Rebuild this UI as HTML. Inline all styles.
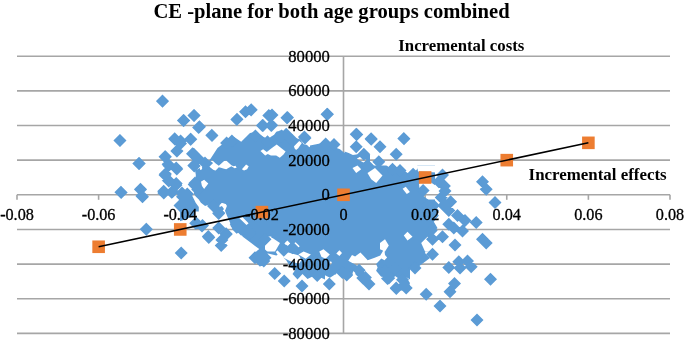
<!DOCTYPE html><html><head><meta charset="utf-8"><style>html,body{margin:0;padding:0;background:#fff;width:685px;height:344px;overflow:hidden}svg{display:block;will-change:transform}text{font-family:"Liberation Serif",serif}</style></head><body><svg width="685" height="344" viewBox="0 0 685 344"><defs><mask id="m" maskUnits="userSpaceOnUse" x="0" y="0" width="685" height="344"><rect width="685" height="344" fill="#fff"/><path fill="#000" d="M352.5 168.0L357.5 165.5L361.2 169.2L356.2 173.0ZM367.5 173.0L375.0 168.0L382.5 175.5L376.2 183.0L371.2 179.2ZM390.0 165.5L405.0 165.5L400.0 171.8L393.8 170.5ZM265.0 240.5L272.5 238.0L280.0 243.0L275.0 251.5L265.0 251.5ZM380.0 243.0L385.0 239.2L388.8 245.5L385.0 251.5L380.0 249.2ZM403.8 235.5L407.5 231.8L412.5 236.8L407.5 240.5ZM421.2 243.0L427.5 236.8L435.0 240.5L435.0 251.5L425.0 251.5ZM419.0 183.5L428.0 180.5L437.0 186.5L437.0 199.5L428.0 199.5L420.0 193.5ZM417.0 165.5L437.0 165.5L437.0 172.5L418.0 171.5ZM264.4 239.0L266.9 236.5L271.2 236.5L272.5 240.9L269.4 244.0ZM284.4 243.4L286.2 241.5L288.1 243.4L286.2 245.2ZM348.3 260.7L352.0 255.0L355.1 256.5L360.4 252.4L367.7 260.2L374.0 258.1L380.3 255.5L383.4 250.3L382.4 246.6L385.5 244.5L388.1 246.1L384.5 250.8L385.0 255.0L387.1 257.6L384.5 260.2L381.3 258.6L376.1 263.9L377.6 267.5L376.1 270.7L381.8 277.5L380.3 280.5L370.8 280.5L360.4 268.1L357.2 266.0L356.2 264.9L350.9 262.3ZM353.0 271.7L356.2 268.8L358.1 269.8L355.1 273.8L357.2 277.0L355.1 280.5L348.8 280.5L352.0 275.9ZM336.3 253.4L339.4 250.3L342.0 252.9L339.4 256.0ZM335.2 274.9L337.9 271.7L340.5 273.8L342.6 275.9L340.5 280.1L336.3 280.5ZM330.0 261.8L331.0 261.3L332.1 263.3L330.0 264.9ZM200.9 181.8L204.1 179.7L208.3 183.4L204.1 189.1L202.0 186.0ZM239.2 218.1L242.3 217.0L248.6 223.3L246.5 224.9ZM385.9 164.7L392.1 160.5L417.3 160.5L417.3 168.9L411.0 175.2L404.7 171.0L398.4 168.9L392.1 169.9ZM402.6 188.8L405.8 186.7L409.9 191.9L406.8 194.0ZM298.4 254.6L303.6 251.4L310.9 254.6L305.7 258.8ZM319.3 251.4L323.5 249.3L329.8 254.6L325.6 258.8L321.4 256.7ZM260.5 150.9L263.1 149.3L266.8 152.0L270.9 148.8L276.7 144.6L281.4 148.3L285.6 151.4L283.5 154.6L279.8 157.7L276.2 155.6L270.9 155.6L267.8 154.1L265.2 155.6ZM294.0 146.2L299.2 141.0L301.8 143.1L298.2 148.3L296.1 149.9L294.5 148.3ZM255.2 130.5L277.2 130.5L274.1 134.7L270.9 136.8L267.8 139.4L263.6 136.8L260.5 134.7L256.3 132.6ZM306.5 144.1L308.6 142.0L310.0 143.1L310.0 147.3L308.1 146.2ZM200.0 153.6L203.1 150.5L212.6 150.5L211.5 153.6L208.4 157.8L206.3 159.9L204.2 157.8L201.0 156.8ZM209.4 166.7L213.1 163.1L210.5 161.0L212.0 159.9L215.7 163.6L218.8 165.7L224.1 161.0L226.2 160.4L231.4 165.2L233.5 166.2L235.6 165.7L236.6 167.8L234.6 168.3L231.4 166.2L226.2 169.3L224.1 168.8L220.9 167.8L218.8 167.3L215.7 170.4L213.6 169.9ZM241.9 169.3L246.1 164.6L248.7 166.2L247.1 169.3L244.0 170.4ZM200.0 166.2L202.1 167.3L202.1 169.3L200.0 169.9ZM275.8 252.1L278.1 249.8L285.1 251.5L290.9 253.3L299.1 255.6L301.4 260.3L299.1 263.8L290.9 261.4L284.0 257.9L278.1 255.6ZM285.1 242.8L287.4 240.5L290.3 243.4L288.0 246.3ZM293.8 243.4L295.6 242.2L299.7 246.3L297.9 248.1ZM356.8 158.7L360.4 156.6L367.0 160.2L363.4 162.4Z"/></mask></defs><g stroke="#a6a6a6" stroke-width="1.6"><line x1="17" y1="56.20" x2="670" y2="56.20"/><line x1="17" y1="90.85" x2="670" y2="90.85"/><line x1="17" y1="125.50" x2="670" y2="125.50"/><line x1="17" y1="160.15" x2="670" y2="160.15"/><line x1="17" y1="194.80" x2="670" y2="194.80"/><line x1="17" y1="229.45" x2="670" y2="229.45"/><line x1="17" y1="264.10" x2="670" y2="264.10"/><line x1="17" y1="298.75" x2="670" y2="298.75"/><line x1="17" y1="333.40" x2="670" y2="333.40"/></g><line x1="343.5" y1="56.20" x2="343.5" y2="333.40" stroke="#a6a6a6" stroke-width="1.6"/><g stroke="#a6a6a6" stroke-width="1.6"><line x1="17.00" y1="194.8" x2="17.00" y2="199.8"/><line x1="98.62" y1="194.8" x2="98.62" y2="199.8"/><line x1="180.25" y1="194.8" x2="180.25" y2="199.8"/><line x1="261.88" y1="194.8" x2="261.88" y2="199.8"/><line x1="343.50" y1="194.8" x2="343.50" y2="199.8"/><line x1="425.12" y1="194.8" x2="425.12" y2="199.8"/><line x1="506.75" y1="194.8" x2="506.75" y2="199.8"/><line x1="588.38" y1="194.8" x2="588.38" y2="199.8"/><line x1="670.00" y1="194.8" x2="670.00" y2="199.8"/></g><path fill="#5b9bd5" mask="url(#m)" d="M211.0 158.0L217.5 148.0L228.8 139.2L233.8 136.8L241.2 141.8L250.0 133.0L256.2 131.8L263.8 136.8L270.0 134.2L270.0 171.5L203.0 171.5L206.0 165.5ZM265.0 135.5L275.0 131.8L282.5 130.5L290.0 136.8L300.0 139.2L303.8 144.2L310.0 145.5L322.5 143.0L330.0 145.5L340.0 149.2L347.5 155.5L352.5 160.5L360.0 165.5L365.0 171.5L265.0 171.5ZM195.0 170.5L200.0 168.0L205.0 165.5L270.0 165.5L270.0 240.5L262.5 238.0L255.0 230.5L247.5 225.5L242.5 218.0L235.0 210.5L230.0 205.5L222.5 203.0L215.0 200.5L207.5 195.5L202.5 190.5L198.8 183.0L196.2 176.8ZM265.0 165.5L435.0 165.5L435.0 200.5L440.0 205.5L435.0 210.5L438.8 215.5L433.8 221.8L437.5 228.0L431.2 234.2L435.0 240.5L435.0 251.5L265.0 251.5ZM240.0 236.5L325.0 236.5L325.0 279.5L321.2 277.8L317.5 274.0L312.5 276.5L307.5 279.0L302.5 274.0L297.5 279.5L292.5 274.0L295.0 270.2L290.0 266.5L286.2 260.2L282.5 256.5L277.5 252.8L273.8 249.0L268.8 245.2L265.0 241.5L258.8 239.0L252.5 237.8L246.2 236.5ZM325.0 236.5L410.0 236.5L410.0 279.5L405.0 276.5L400.0 279.5L395.0 275.9L390.0 279.0L385.0 274.6L380.0 277.8L375.0 274.0L370.0 277.1L365.0 274.6L360.0 277.8L355.0 274.6L350.0 277.8L345.0 274.0L340.0 277.1L335.0 274.6L330.0 277.8L325.0 275.2ZM400.0 230.5L435.0 230.5L432.5 235.5L425.0 240.5L427.5 245.5L425.0 253.0L430.0 258.0L420.0 265.5L415.0 270.5L407.5 265.5L405.0 275.5L410.0 283.0L407.5 290.5L400.0 290.5ZM195.7 175.5L240.0 175.5L240.0 211.5L229.2 211.5L229.2 209.0L226.1 204.8L226.1 200.6L221.9 202.7L217.7 206.9L214.6 209.0L211.4 206.9L208.3 204.8L205.1 205.9L200.9 202.7L198.8 199.6L195.7 196.4L193.6 193.3L194.7 191.2L189.4 186.0L189.4 183.9L195.7 178.6ZM180.0 190.2L183.1 191.2L186.3 192.3L191.5 194.3L193.6 198.5L195.7 202.7L198.8 206.9L198.8 211.5L180.0 211.5ZM180.0 181.8L182.1 183.9L180.0 186.0ZM214.6 211.5L217.7 208.0L221.9 205.9L224.0 209.0L221.9 211.5ZM180.0 205.5L197.8 205.5L195.7 209.7L193.6 216.0L186.3 219.1L180.0 221.2ZM227.1 205.5L240.0 205.5L240.0 231.7L236.5 233.8L232.4 229.6L230.3 223.3L227.1 216.0L225.0 210.7ZM235.0 205.5L295.0 205.5L295.0 241.5L251.8 241.5L245.5 235.9L241.3 232.7L237.1 229.6L235.0 230.6ZM238.6 230.5L268.0 236.8L278.4 243.1L284.7 251.4L276.3 255.6L268.0 253.5L259.6 249.3L251.2 243.1L242.8 236.8ZM344.6 151.4L348.7 153.0L352.9 155.1L356.1 154.6L362.4 153.0L365.5 154.1L370.0 155.1L370.0 166.5L344.6 166.5Z"/><path fill="#5b9bd5" d="M162.5 94.7l6.5 6.5l-6.5 6.5l-6.5-6.5zM183.4 113.9l6.5 6.5l-6.5 6.5l-6.5-6.5zM193.9 109.0l6.5 6.5l-6.5 6.5l-6.5-6.5zM198.6 120.9l6.5 6.5l-6.5 6.5l-6.5-6.5zM119.9 134.0l6.5 6.5l-6.5 6.5l-6.5-6.5zM174.7 132.2l6.5 6.5l-6.5 6.5l-6.5-6.5zM180.6 134.5l6.5 6.5l-6.5 6.5l-6.5-6.5zM190.8 132.8l6.5 6.5l-6.5 6.5l-6.5-6.5zM211.8 128.7l6.5 6.5l-6.5 6.5l-6.5-6.5zM236.8 113.0l6.5 6.5l-6.5 6.5l-6.5-6.5zM245.5 105.2l6.5 6.5l-6.5 6.5l-6.5-6.5zM251.1 103.4l6.5 6.5l-6.5 6.5l-6.5-6.5zM262.4 119.1l6.5 6.5l-6.5 6.5l-6.5-6.5zM271.7 118.8l6.5 6.5l-6.5 6.5l-6.5-6.5zM286.9 111.3l6.5 6.5l-6.5 6.5l-6.5-6.5zM231.9 134.5l6.5 6.5l-6.5 6.5l-6.5-6.5zM226.6 136.6l6.5 6.5l-6.5 6.5l-6.5-6.5zM281.6 129.6l6.5 6.5l-6.5 6.5l-6.5-6.5zM255.4 129.6l6.5 6.5l-6.5 6.5l-6.5-6.5zM327.5 107.8l6.5 6.5l-6.5 6.5l-6.5-6.5zM356.8 127.9l6.5 6.5l-6.5 6.5l-6.5-6.5zM371.1 132.2l6.5 6.5l-6.5 6.5l-6.5-6.5zM304.4 130.5l6.5 6.5l-6.5 6.5l-6.5-6.5zM325.7 137.5l6.5 6.5l-6.5 6.5l-6.5-6.5zM334.0 138.0l6.5 6.5l-6.5 6.5l-6.5-6.5zM404.0 132.2l6.5 6.5l-6.5 6.5l-6.5-6.5zM139.3 156.9l6.5 6.5l-6.5 6.5l-6.5-6.5zM120.9 185.7l6.5 6.5l-6.5 6.5l-6.5-6.5zM140.5 183.1l6.5 6.5l-6.5 6.5l-6.5-6.5zM141.9 189.5l6.5 6.5l-6.5 6.5l-6.5-6.5zM176.8 144.4l6.5 6.5l-6.5 6.5l-6.5-6.5zM165.4 150.3l6.5 6.5l-6.5 6.5l-6.5-6.5zM168.1 157.8l6.5 6.5l-6.5 6.5l-6.5-6.5zM176.8 162.5l6.5 6.5l-6.5 6.5l-6.5-6.5zM165.4 167.4l6.5 6.5l-6.5 6.5l-6.5-6.5zM168.1 173.5l6.5 6.5l-6.5 6.5l-6.5-6.5zM175.9 178.7l6.5 6.5l-6.5 6.5l-6.5-6.5zM163.7 184.8l6.5 6.5l-6.5 6.5l-6.5-6.5zM171.6 185.7l6.5 6.5l-6.5 6.5l-6.5-6.5zM192.5 147.3l6.5 6.5l-6.5 6.5l-6.5-6.5zM194.2 159.5l6.5 6.5l-6.5 6.5l-6.5-6.5zM194.2 177.9l6.5 6.5l-6.5 6.5l-6.5-6.5zM182.0 186.6l6.5 6.5l-6.5 6.5l-6.5-6.5zM187.3 187.5l6.5 6.5l-6.5 6.5l-6.5-6.5zM197.7 183.1l6.5 6.5l-6.5 6.5l-6.5-6.5zM146.4 222.8l6.5 6.5l-6.5 6.5l-6.5-6.5zM162.5 94.5l6.5 6.5l-6.5 6.5l-6.5-6.5zM183.8 114.0l6.5 6.5l-6.5 6.5l-6.5-6.5zM194.2 109.0l6.5 6.5l-6.5 6.5l-6.5-6.5zM199.5 120.2l6.5 6.5l-6.5 6.5l-6.5-6.5zM212.0 129.0l6.5 6.5l-6.5 6.5l-6.5-6.5zM120.0 134.0l6.5 6.5l-6.5 6.5l-6.5-6.5zM175.0 132.8l6.5 6.5l-6.5 6.5l-6.5-6.5zM180.5 137.0l6.5 6.5l-6.5 6.5l-6.5-6.5zM190.5 132.8l6.5 6.5l-6.5 6.5l-6.5-6.5zM177.0 144.5l6.5 6.5l-6.5 6.5l-6.5-6.5zM165.0 150.2l6.5 6.5l-6.5 6.5l-6.5-6.5zM193.8 147.8l6.5 6.5l-6.5 6.5l-6.5-6.5zM198.0 152.0l6.5 6.5l-6.5 6.5l-6.5-6.5zM138.8 157.0l6.5 6.5l-6.5 6.5l-6.5-6.5zM168.8 159.0l6.5 6.5l-6.5 6.5l-6.5-6.5zM176.2 161.5l6.5 6.5l-6.5 6.5l-6.5-6.5zM193.8 159.0l6.5 6.5l-6.5 6.5l-6.5-6.5zM205.0 156.5l6.5 6.5l-6.5 6.5l-6.5-6.5zM237.0 112.8l6.5 6.5l-6.5 6.5l-6.5-6.5zM245.5 105.2l6.5 6.5l-6.5 6.5l-6.5-6.5zM251.2 103.2l6.5 6.5l-6.5 6.5l-6.5-6.5zM263.0 119.0l6.5 6.5l-6.5 6.5l-6.5-6.5zM268.8 109.0l6.5 6.5l-6.5 6.5l-6.5-6.5zM272.0 108.5l6.5 6.5l-6.5 6.5l-6.5-6.5zM287.5 111.0l6.5 6.5l-6.5 6.5l-6.5-6.5zM327.0 107.8l6.5 6.5l-6.5 6.5l-6.5-6.5zM271.2 119.0l6.5 6.5l-6.5 6.5l-6.5-6.5zM356.2 127.8l6.5 6.5l-6.5 6.5l-6.5-6.5zM371.2 132.8l6.5 6.5l-6.5 6.5l-6.5-6.5zM380.0 140.2l6.5 6.5l-6.5 6.5l-6.5-6.5zM403.8 132.0l6.5 6.5l-6.5 6.5l-6.5-6.5zM356.2 140.2l6.5 6.5l-6.5 6.5l-6.5-6.5zM363.8 147.8l6.5 6.5l-6.5 6.5l-6.5-6.5zM396.2 147.8l6.5 6.5l-6.5 6.5l-6.5-6.5zM378.8 155.2l6.5 6.5l-6.5 6.5l-6.5-6.5zM367.5 159.0l6.5 6.5l-6.5 6.5l-6.5-6.5zM392.5 162.8l6.5 6.5l-6.5 6.5l-6.5-6.5zM400.0 164.0l6.5 6.5l-6.5 6.5l-6.5-6.5zM305.0 131.5l6.5 6.5l-6.5 6.5l-6.5-6.5zM280.0 130.2l6.5 6.5l-6.5 6.5l-6.5-6.5zM286.2 127.8l6.5 6.5l-6.5 6.5l-6.5-6.5zM292.5 134.0l6.5 6.5l-6.5 6.5l-6.5-6.5zM267.5 135.2l6.5 6.5l-6.5 6.5l-6.5-6.5zM121.2 186.0l6.5 6.5l-6.5 6.5l-6.5-6.5zM140.5 182.8l6.5 6.5l-6.5 6.5l-6.5-6.5zM142.5 190.2l6.5 6.5l-6.5 6.5l-6.5-6.5zM165.0 168.5l6.5 6.5l-6.5 6.5l-6.5-6.5zM168.8 174.5l6.5 6.5l-6.5 6.5l-6.5-6.5zM176.2 177.0l6.5 6.5l-6.5 6.5l-6.5-6.5zM163.8 186.5l6.5 6.5l-6.5 6.5l-6.5-6.5zM172.5 185.2l6.5 6.5l-6.5 6.5l-6.5-6.5zM195.0 176.5l6.5 6.5l-6.5 6.5l-6.5-6.5zM182.5 190.2l6.5 6.5l-6.5 6.5l-6.5-6.5zM187.5 194.0l6.5 6.5l-6.5 6.5l-6.5-6.5zM180.0 199.0l6.5 6.5l-6.5 6.5l-6.5-6.5zM188.8 197.8l6.5 6.5l-6.5 6.5l-6.5-6.5zM185.0 202.8l6.5 6.5l-6.5 6.5l-6.5-6.5zM218.8 206.5l6.5 6.5l-6.5 6.5l-6.5-6.5zM196.2 216.5l6.5 6.5l-6.5 6.5l-6.5-6.5zM202.5 219.0l6.5 6.5l-6.5 6.5l-6.5-6.5zM208.8 231.0l6.5 6.5l-6.5 6.5l-6.5-6.5zM218.8 221.5l6.5 6.5l-6.5 6.5l-6.5-6.5zM226.2 227.8l6.5 6.5l-6.5 6.5l-6.5-6.5zM221.2 239.0l6.5 6.5l-6.5 6.5l-6.5-6.5zM146.2 222.8l6.5 6.5l-6.5 6.5l-6.5-6.5zM236.2 217.8l6.5 6.5l-6.5 6.5l-6.5-6.5zM241.2 222.8l6.5 6.5l-6.5 6.5l-6.5-6.5zM250.0 226.5l6.5 6.5l-6.5 6.5l-6.5-6.5zM265.0 232.8l6.5 6.5l-6.5 6.5l-6.5-6.5zM442.5 168.4l6.5 6.5l-6.5 6.5l-6.5-6.5zM438.8 175.2l6.5 6.5l-6.5 6.5l-6.5-6.5zM444.4 179.6l6.5 6.5l-6.5 6.5l-6.5-6.5zM445.0 184.6l6.5 6.5l-6.5 6.5l-6.5-6.5zM423.1 184.0l6.5 6.5l-6.5 6.5l-6.5-6.5zM441.2 190.9l6.5 6.5l-6.5 6.5l-6.5-6.5zM450.6 195.2l6.5 6.5l-6.5 6.5l-6.5-6.5zM443.8 199.0l6.5 6.5l-6.5 6.5l-6.5-6.5zM427.5 199.0l6.5 6.5l-6.5 6.5l-6.5-6.5zM413.1 167.8l6.5 6.5l-6.5 6.5l-6.5-6.5zM482.5 175.2l6.5 6.5l-6.5 6.5l-6.5-6.5zM486.2 182.8l6.5 6.5l-6.5 6.5l-6.5-6.5zM495.0 196.0l6.5 6.5l-6.5 6.5l-6.5-6.5zM448.8 204.0l6.5 6.5l-6.5 6.5l-6.5-6.5zM457.5 209.0l6.5 6.5l-6.5 6.5l-6.5-6.5zM465.0 214.0l6.5 6.5l-6.5 6.5l-6.5-6.5zM476.2 216.0l6.5 6.5l-6.5 6.5l-6.5-6.5zM448.8 217.8l6.5 6.5l-6.5 6.5l-6.5-6.5zM453.8 221.5l6.5 6.5l-6.5 6.5l-6.5-6.5zM462.5 224.5l6.5 6.5l-6.5 6.5l-6.5-6.5zM442.5 230.2l6.5 6.5l-6.5 6.5l-6.5-6.5zM455.0 238.5l6.5 6.5l-6.5 6.5l-6.5-6.5zM482.5 232.8l6.5 6.5l-6.5 6.5l-6.5-6.5zM486.2 236.5l6.5 6.5l-6.5 6.5l-6.5-6.5zM432.5 204.0l6.5 6.5l-6.5 6.5l-6.5-6.5zM431.2 224.0l6.5 6.5l-6.5 6.5l-6.5-6.5zM432.5 232.8l6.5 6.5l-6.5 6.5l-6.5-6.5zM446.2 199.0l6.5 6.5l-6.5 6.5l-6.5-6.5zM181.2 246.5l6.5 6.5l-6.5 6.5l-6.5-6.5zM257.5 250.2l6.5 6.5l-6.5 6.5l-6.5-6.5zM263.8 254.5l6.5 6.5l-6.5 6.5l-6.5-6.5zM261.9 246.2l6.5 6.5l-6.5 6.5l-6.5-6.5zM260.0 253.8l6.5 6.5l-6.5 6.5l-6.5-6.5zM265.0 251.2l6.5 6.5l-6.5 6.5l-6.5-6.5zM255.0 251.2l6.5 6.5l-6.5 6.5l-6.5-6.5zM283.8 243.8l6.5 6.5l-6.5 6.5l-6.5-6.5zM292.5 241.2l6.5 6.5l-6.5 6.5l-6.5-6.5zM432.5 247.8l6.5 6.5l-6.5 6.5l-6.5-6.5zM448.8 261.0l6.5 6.5l-6.5 6.5l-6.5-6.5zM458.8 255.2l6.5 6.5l-6.5 6.5l-6.5-6.5zM460.0 261.5l6.5 6.5l-6.5 6.5l-6.5-6.5zM467.5 254.5l6.5 6.5l-6.5 6.5l-6.5-6.5zM471.2 260.2l6.5 6.5l-6.5 6.5l-6.5-6.5zM490.5 272.8l6.5 6.5l-6.5 6.5l-6.5-6.5zM454.5 277.0l6.5 6.5l-6.5 6.5l-6.5-6.5zM450.0 285.2l6.5 6.5l-6.5 6.5l-6.5-6.5zM426.2 287.8l6.5 6.5l-6.5 6.5l-6.5-6.5zM440.0 299.5l6.5 6.5l-6.5 6.5l-6.5-6.5zM406.2 281.5l6.5 6.5l-6.5 6.5l-6.5-6.5zM415.0 261.5l6.5 6.5l-6.5 6.5l-6.5-6.5zM274.7 267.0l6.5 6.5l-6.5 6.5l-6.5-6.5zM284.2 274.4l6.5 6.5l-6.5 6.5l-6.5-6.5zM302.0 279.4l6.5 6.5l-6.5 6.5l-6.5-6.5zM329.3 277.6l6.5 6.5l-6.5 6.5l-6.5-6.5zM346.7 268.5l6.5 6.5l-6.5 6.5l-6.5-6.5zM369.0 277.6l6.5 6.5l-6.5 6.5l-6.5-6.5zM362.8 271.4l6.5 6.5l-6.5 6.5l-6.5-6.5zM396.3 281.9l6.5 6.5l-6.5 6.5l-6.5-6.5zM388.9 271.4l6.5 6.5l-6.5 6.5l-6.5-6.5zM403.8 278.9l6.5 6.5l-6.5 6.5l-6.5-6.5zM396.2 281.5l6.5 6.5l-6.5 6.5l-6.5-6.5zM406.2 281.5l6.5 6.5l-6.5 6.5l-6.5-6.5zM402.5 273.2l6.5 6.5l-6.5 6.5l-6.5-6.5zM387.5 272.0l6.5 6.5l-6.5 6.5l-6.5-6.5zM415.0 261.5l6.5 6.5l-6.5 6.5l-6.5-6.5zM477.0 313.5l6.5 6.5l-6.5 6.5l-6.5-6.5zM395.0 262.0l6.5 6.5l-6.5 6.5l-6.5-6.5zM385.0 264.5l6.5 6.5l-6.5 6.5l-6.5-6.5zM195.7 216.8l6.5 6.5l-6.5 6.5l-6.5-6.5zM202.0 219.4l6.5 6.5l-6.5 6.5l-6.5-6.5zM208.3 229.9l6.5 6.5l-6.5 6.5l-6.5-6.5zM218.7 206.9l6.5 6.5l-6.5 6.5l-6.5-6.5zM218.7 221.5l6.5 6.5l-6.5 6.5l-6.5-6.5zM226.1 227.3l6.5 6.5l-6.5 6.5l-6.5-6.5zM221.9 233.6l6.5 6.5l-6.5 6.5l-6.5-6.5zM213.5 199.5l6.5 6.5l-6.5 6.5l-6.5-6.5zM236.5 218.9l6.5 6.5l-6.5 6.5l-6.5-6.5zM317.2 269.0l6.5 6.5l-6.5 6.5l-6.5-6.5zM342.4 265.9l6.5 6.5l-6.5 6.5l-6.5-6.5zM359.1 263.8l6.5 6.5l-6.5 6.5l-6.5-6.5zM365.4 271.1l6.5 6.5l-6.5 6.5l-6.5-6.5zM388.4 270.1l6.5 6.5l-6.5 6.5l-6.5-6.5z"/><g fill="#ed7d31"><rect x="92.33" y="240.47" width="12.6" height="12.6"/><rect x="173.95" y="223.15" width="12.6" height="12.6"/><rect x="255.57" y="205.82" width="12.6" height="12.6"/><rect x="337.20" y="188.50" width="12.6" height="12.6"/><rect x="418.82" y="171.18" width="12.6" height="12.6"/><rect x="500.45" y="153.85" width="12.6" height="12.6"/><rect x="582.08" y="136.53" width="12.6" height="12.6"/></g><line x1="98.62" y1="246.78" x2="588.38" y2="142.83" stroke="#000" stroke-width="1.5"/><g font-size="16.6" fill="#000" stroke="#000" stroke-width="0.3"><text x="329.8" y="61.60" text-anchor="end">80000</text><text x="329.8" y="96.25" text-anchor="end">60000</text><text x="329.8" y="130.90" text-anchor="end">40000</text><text x="329.8" y="165.55" text-anchor="end">20000</text><text x="329.8" y="200.20" text-anchor="end">0</text><text x="329.8" y="234.85" text-anchor="end">-20000</text><text x="329.8" y="269.50" text-anchor="end">-40000</text><text x="329.8" y="304.15" text-anchor="end">-60000</text><text x="329.8" y="338.80" text-anchor="end">-80000</text></g><g font-size="16.2" fill="#000" stroke="#000" stroke-width="0.3"><text x="17.00" y="219.5" text-anchor="middle">-0.08</text><text x="98.62" y="219.5" text-anchor="middle">-0.06</text><text x="180.25" y="219.5" text-anchor="middle">-0.04</text><text x="261.88" y="219.5" text-anchor="middle">-0.02</text><text x="343.50" y="219.5" text-anchor="middle">0</text><text x="425.12" y="219.5" text-anchor="middle">0.02</text><text x="506.75" y="219.5" text-anchor="middle">0.04</text><text x="588.38" y="219.5" text-anchor="middle">0.06</text><text x="670.00" y="219.5" text-anchor="middle">0.08</text></g><text x="331.5" y="17.9" text-anchor="middle" font-size="20.6" font-weight="bold">CE -plane for both age groups combined</text><text x="398.3" y="50.9" font-size="16.8" font-weight="bold">Incremental costs</text><text x="528.6" y="180" font-size="16.9" font-weight="bold">Incremental effects</text></svg></body></html>
